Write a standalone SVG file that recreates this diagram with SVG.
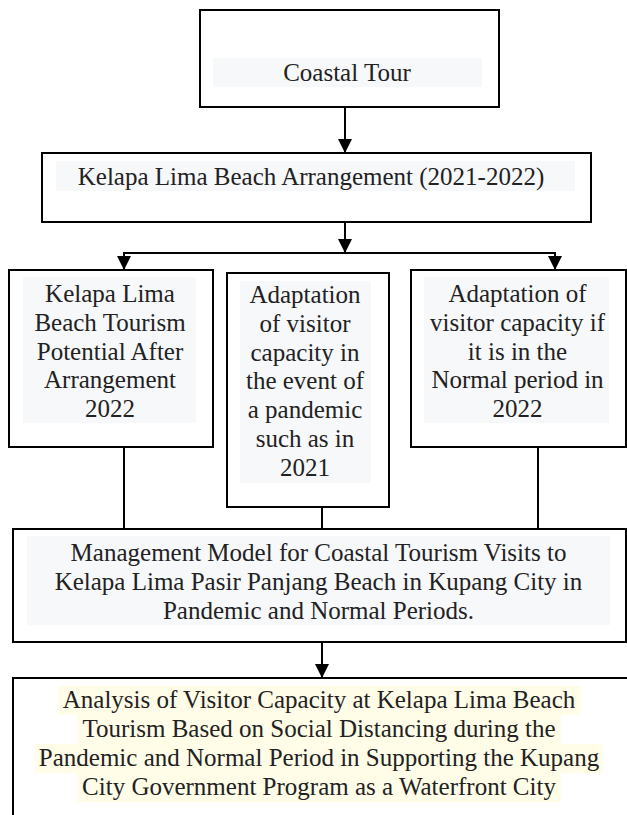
<svg xmlns="http://www.w3.org/2000/svg" width="627" height="815" viewBox="0 0 627 815">
<style>
.box{fill:#fff;stroke:#000;stroke-width:2}
.bg{fill:#f7f8fa}
.hl{fill:#fffde8}
.t{font-family:"Liberation Serif","Times New Roman",serif;font-size:25px;fill:#222;text-anchor:middle}
.ln{stroke:#000;stroke-width:2;fill:none}
</style>
<defs>
<marker id="ah" viewBox="0 0 14 14" refX="14" refY="7" markerWidth="14" markerHeight="14" markerUnits="userSpaceOnUse" orient="auto">
<path d="M0,0 L14,7 L0,14 Z" fill="#000"/>
</marker>
</defs>
<rect width="627" height="815" fill="#fff"/>
<g id="connectors">
<line class="ln" x1="345" y1="107" x2="345" y2="153" marker-end="url(#ah)"/>
<line class="ln" x1="345" y1="222" x2="345" y2="253" marker-end="url(#ah)"/>
<polyline class="ln" points="124,270 124,253 555,253 555,270"/>
<line class="ln" x1="124" y1="254" x2="124" y2="270" marker-end="url(#ah)"/>
<line class="ln" x1="555" y1="254" x2="555" y2="270" marker-end="url(#ah)"/>
<line class="ln" x1="124" y1="447" x2="124" y2="529"/>
<line class="ln" x1="322" y1="507" x2="322" y2="529"/>
<line class="ln" x1="538" y1="447" x2="538" y2="529"/>
<line class="ln" x1="322" y1="642" x2="322" y2="678" marker-end="url(#ah)"/>
</g>
<g id="coastal-tour">
<rect class="box" x="200" y="10" width="299" height="97"/>
<rect class="bg" x="213" y="58" width="269" height="29"/>
<text class="t" x="347" y="81">Coastal Tour</text>
</g>
<g id="arrangement">
<rect class="box" x="42" y="153" width="549" height="69"/>
<rect class="bg" x="56" y="161" width="519" height="30"/>
<text class="t" x="311" y="185">Kelapa Lima Beach Arrangement (2021-2022)</text>
</g>
<g id="potential">
<rect class="box" x="9" y="270" width="204" height="177"/>
<rect class="bg" x="23" y="277" width="173" height="146"/>
<text class="t" x="110" y="302">Kelapa Lima</text>
<text class="t" x="110" y="330.8">Beach Tourism</text>
<text class="t" x="110" y="359.6">Potential After</text>
<text class="t" x="110" y="388.4">Arrangement</text>
<text class="t" x="110" y="417.2">2022</text>
</g>
<g id="pandemic-capacity">
<rect class="box" x="227" y="273" width="162" height="234"/>
<rect class="bg" x="240" y="281" width="131" height="202"/>
<text class="t" x="305" y="303">Adaptation</text>
<text class="t" x="305" y="331.8">of visitor</text>
<text class="t" x="305" y="360.6">capacity in</text>
<text class="t" x="305" y="389.4">the event of</text>
<text class="t" x="305" y="418.2">a pandemic</text>
<text class="t" x="305" y="447">such as in</text>
<text class="t" x="305" y="475.8">2021</text>
</g>
<g id="normal-capacity">
<rect class="box" x="411" y="270" width="215" height="177"/>
<rect class="bg" x="424" y="277" width="185" height="146"/>
<text class="t" x="517.5" y="302">Adaptation of</text>
<text class="t" x="517.5" y="330.8">visitor capacity if</text>
<text class="t" x="517.5" y="359.6">it is in the</text>
<text class="t" x="517.5" y="388.4">Normal period in</text>
<text class="t" x="517.5" y="417.2">2022</text>
</g>
<g id="management-model">
<rect class="box" x="13" y="529" width="613" height="113"/>
<rect class="bg" x="27" y="536" width="583" height="89"/>
<text class="t" x="318.5" y="561">Management Model for Coastal Tourism Visits to</text>
<text class="t" x="318.5" y="590">Kelapa Lima Pasir Panjang Beach in Kupang City in</text>
<text class="t" x="318.5" y="619">Pandemic and Normal Periods.</text>
</g>
<g id="analysis">
<rect class="box" x="13" y="678" width="640" height="160"/>
<rect class="hl" x="58" y="686" width="523" height="29"/>
<rect class="hl" x="77" y="715" width="484" height="29"/>
<rect class="hl" x="35" y="744" width="568" height="29"/>
<rect class="hl" x="77" y="773" width="484" height="29"/>
<text class="t" x="319" y="708">Analysis of Visitor Capacity at Kelapa Lima Beach</text>
<text class="t" x="319" y="737">Tourism Based on Social Distancing during the</text>
<text class="t" x="319" y="766">Pandemic and Normal Period in Supporting the Kupang</text>
<text class="t" x="319" y="795">City Government Program as a Waterfront City</text>
</g>
</svg>
